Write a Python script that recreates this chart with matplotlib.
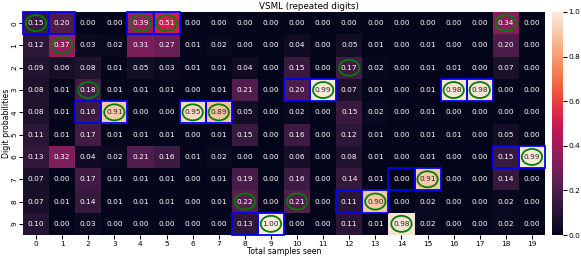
import numpy as np
import matplotlib
matplotlib.use("Agg")
import matplotlib.pyplot as plt
import seaborn as sns
from matplotlib.patches import Ellipse, Rectangle

# per-digit probabilities, rows = digit 0..9, cols = samples seen 0..19
probs = np.array([
    [0.15, 0.20, 0.00, 0.00, 0.39, 0.51, 0.00, 0.00, 0.00, 0.00, 0.00, 0.00, 0.00, 0.00, 0.00, 0.00, 0.00, 0.00, 0.34, 0.00],
    [0.12, 0.37, 0.03, 0.02, 0.31, 0.27, 0.01, 0.02, 0.00, 0.00, 0.04, 0.00, 0.05, 0.01, 0.00, 0.01, 0.00, 0.00, 0.20, 0.00],
    [0.09, 0.06, 0.08, 0.01, 0.05, 0.03, 0.01, 0.01, 0.04, 0.00, 0.15, 0.00, 0.17, 0.02, 0.00, 0.01, 0.01, 0.00, 0.07, 0.00],
    [0.08, 0.01, 0.18, 0.01, 0.01, 0.01, 0.00, 0.01, 0.21, 0.00, 0.20, 0.99, 0.07, 0.01, 0.00, 0.01, 0.98, 0.98, 0.00, 0.00],
    [0.08, 0.01, 0.16, 0.91, 0.00, 0.00, 0.95, 0.89, 0.05, 0.00, 0.02, 0.00, 0.15, 0.02, 0.00, 0.01, 0.00, 0.00, 0.00, 0.00],
    [0.11, 0.01, 0.17, 0.01, 0.01, 0.01, 0.00, 0.01, 0.15, 0.00, 0.16, 0.00, 0.12, 0.01, 0.00, 0.01, 0.01, 0.00, 0.05, 0.00],
    [0.13, 0.32, 0.04, 0.02, 0.21, 0.16, 0.01, 0.02, 0.00, 0.00, 0.06, 0.00, 0.08, 0.01, 0.00, 0.01, 0.00, 0.00, 0.15, 0.99],
    [0.07, 0.00, 0.17, 0.01, 0.01, 0.01, 0.00, 0.01, 0.19, 0.00, 0.16, 0.00, 0.14, 0.01, 0.00, 0.91, 0.00, 0.00, 0.14, 0.00],
    [0.07, 0.01, 0.14, 0.01, 0.01, 0.01, 0.00, 0.01, 0.22, 0.00, 0.21, 0.00, 0.11, 0.90, 0.00, 0.02, 0.00, 0.00, 0.02, 0.00],
    [0.10, 0.00, 0.03, 0.00, 0.00, 0.00, 0.00, 0.00, 0.13, 1.00, 0.00, 0.00, 0.11, 0.01, 0.98, 0.02, 0.00, 0.00, 0.02, 0.00],
])
# true digit shown at each step (each one repeated twice)
labels = [0, 0, 4, 4, 0, 0, 4, 4, 9, 9, 3, 3, 8, 8, 7, 7, 3, 3, 6, 6]

fig = plt.figure(figsize=(5.81, 2.59), dpi=100)
ax = fig.add_axes([23/581, 24/259, 522/581, 223/259])
cax = fig.add_axes([552/581, 24/259, 11/581, 223/259])

sns.heatmap(probs, ax=ax, cbar_ax=cax, cmap="rocket", vmin=0, vmax=1,
            annot=True, fmt=".2f", annot_kws={"fontsize": 5.3})

preds = probs.argmax(axis=0)
for j in range(probs.shape[1]):
    # predicted digit -> green ellipse
    ax.add_patch(Ellipse((j + 0.5, preds[j] + 0.5), 0.78, 0.72,
                         fill=False, edgecolor="green", lw=1.3))
    # true digit -> blue box
    ax.add_patch(Rectangle((j, labels[j]), 1, 1, fill=False,
                           edgecolor="blue", lw=1.3, clip_on=False))

ax.set_title("VSML (repeated digits)", fontsize=6.3, pad=2, x=0.548)
ax.set_xlabel("Total samples seen", fontsize=5.6, labelpad=0.5)
ax.set_ylabel("Digit probabilities", fontsize=5.6, labelpad=0.5)
ax.tick_params(labelsize=5.3, length=3, pad=1)
cax.tick_params(labelsize=5.3, length=3, pad=1)
for s in cax.spines.values():
    s.set_visible(False)

fig.savefig("out.png", dpi=100)
